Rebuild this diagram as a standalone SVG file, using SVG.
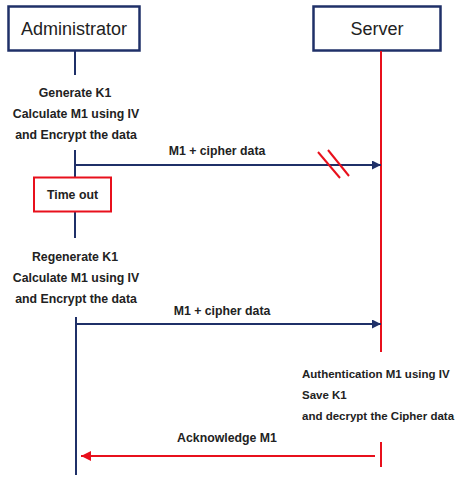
<svg xmlns="http://www.w3.org/2000/svg" width="463" height="480" viewBox="0 0 463 480">
<style>
.hdr{fill:#fff;stroke:#1f3068;stroke-width:2.5}
.hdrt{font-family:"Liberation Sans",Arial,sans-serif;font-size:18px;fill:#222;text-anchor:middle}
.t{font-family:"Liberation Sans",Arial,sans-serif;font-size:12.3px;font-weight:bold;fill:#222}
.s{font-size:11.5px}
.c{text-anchor:middle}
.navy{stroke:#1f3068;stroke-width:2;fill:none}
.red{stroke:#e8101c;stroke-width:2;fill:none}
</style>
<defs>
<marker id="an" viewBox="0 0 10 10" refX="10" refY="5" markerWidth="9" markerHeight="9" orient="auto" markerUnits="userSpaceOnUse"><path d="M0,0L10,5L0,10z" fill="#1f3068"/></marker>
<marker id="ar" viewBox="0 0 10 10" refX="10" refY="5" markerWidth="11" markerHeight="10" orient="auto" markerUnits="userSpaceOnUse"><path d="M0,0L10,5L0,10z" fill="#e8101c"/></marker>
</defs>
<rect width="463" height="480" fill="#fff"/>
<g id="admin">
<rect class="hdr" x="8.5" y="6.5" width="131" height="44"/>
<text class="hdrt" x="74" y="35">Administrator</text>
</g>
<g id="server">
<rect class="hdr" x="313.5" y="6.5" width="127" height="44"/>
<text class="hdrt" x="377" y="35">Server</text>
</g>
<g id="lifelines">
<line class="navy" x1="75" y1="51" x2="75" y2="75"/>
<line class="navy" x1="75" y1="150" x2="75" y2="177"/>
<line class="navy" x1="75" y1="212" x2="75" y2="238"/>
<line class="navy" x1="76" y1="317" x2="76" y2="475"/>
<line class="red" x1="381" y1="51" x2="381" y2="352"/>
<line class="red" x1="381" y1="442" x2="381" y2="467"/>
</g>
<g id="gen">
<text class="t c" x="75" y="97">Generate K1</text>
<text class="t c" x="76" y="118">Calculate M1 using IV</text>
<text class="t c" x="76" y="139">and Encrypt the data</text>
</g>
<g id="timeout">
<rect x="34" y="177.5" width="77" height="34" fill="#fff" stroke="#e8101c" stroke-width="2"/>
<text class="t c" x="72.5" y="199">Time out</text>
</g>
<g id="regen">
<text class="t c" x="75" y="261">Regenerate K1</text>
<text class="t c" x="76" y="282">Calculate M1 using IV</text>
<text class="t c" x="76" y="303">and Encrypt the data</text>
</g>
<g id="auth">
<text class="t s" x="302" y="378">Authentication M1 using IV</text>
<text class="t s" x="302" y="399">Save K1</text>
<text class="t s" x="302" y="420">and decrypt the Cipher data</text>
</g>
<g id="connectors">
<line class="navy" x1="76" y1="165" x2="381" y2="165" marker-end="url(#an)"/>
<line class="red" x1="318" y1="152" x2="340" y2="178"/>
<line class="red" x1="328" y1="150" x2="349" y2="176"/>
<text class="t c" x="217" y="155">M1 + cipher data</text>
<line class="navy" x1="77" y1="324" x2="381" y2="324" marker-end="url(#an)"/>
<text class="t c" x="222" y="315">M1 + cipher data</text>
<line class="red" x1="375" y1="456" x2="81" y2="456" marker-end="url(#ar)"/>
<text class="t c" x="227" y="442">Acknowledge M1</text>
</g>
</svg>
